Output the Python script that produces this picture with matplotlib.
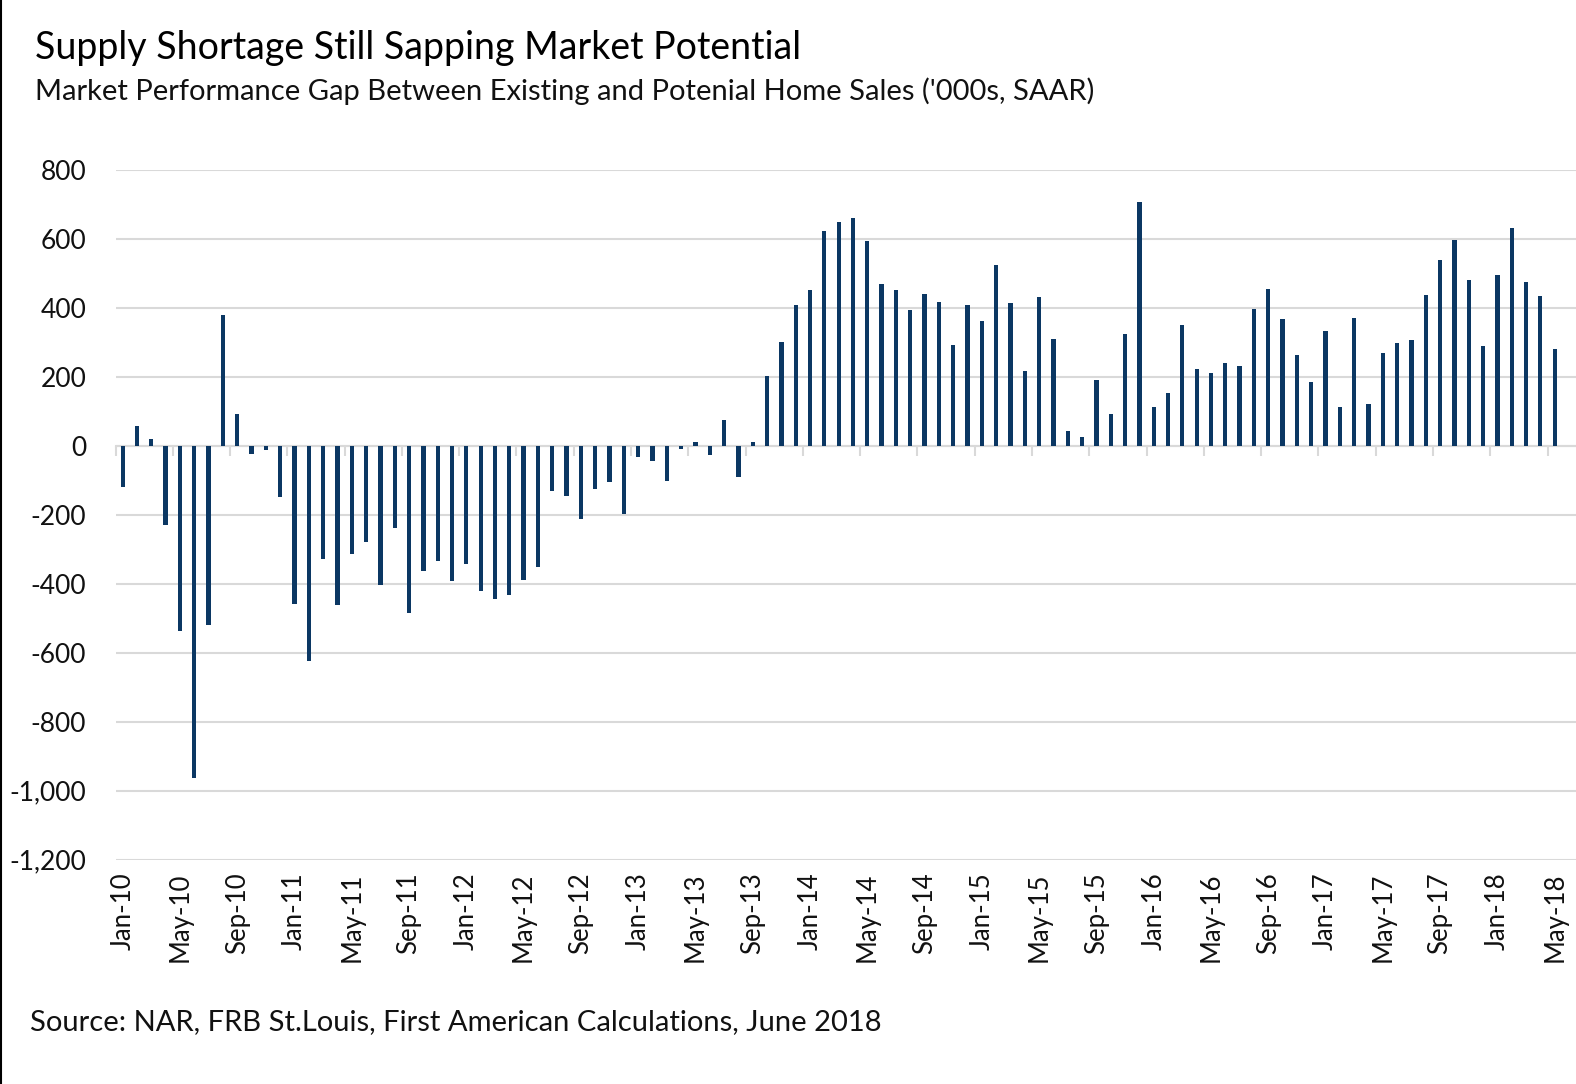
import matplotlib
matplotlib.use("Agg")
import matplotlib.pyplot as plt
from matplotlib.lines import Line2D
from matplotlib.ticker import FuncFormatter
import pandas as pd
import numpy as np

# ---------------- data ----------------
months = pd.date_range("2010-01-01", periods=101, freq="MS").strftime("%b-%y").tolist()

gap_2010_2011 = [-119, 58, 19, -231, -537, -964, -519, 380, 93, -23, -12, -150,
                 -459, -624, -329, -463, -315, -279, -403, -239]
gap_2011_2013 = [-484, -362, -333, -391, -342, -420, -443, -432, -388, -351, -130, -145,
                 -212, -125, -104, -197, -34, -43, -101, -11, 11, -26, 74, -90,
                 11, 202, 300, 408]
gap_2014_2015 = [451, 622, 648, 659, 593, 468, 451, 393, 439, 416, 291, 407,
                 361, 523, 413, 216, 430, 309, 42, 25, 190, 91, 323, 706]
gap_2016_2018 = [111, 152, 349, 222, 210, 239, 230, 396, 454, 367, 262, 184,
                 333, 111, 369, 120, 268, 297, 306, 436, 538, 596, 480, 288,
                 494, 631, 474, 433, 280]
gap = gap_2010_2011 + gap_2011_2013 + gap_2014_2015 + gap_2016_2018

tick_labels = ["Jan-10", "May-10", "Sep-10", "Jan-11", "May-11", "Sep-11",
               "Jan-12", "May-12", "Sep-12", "Jan-13", "May-13", "Sep-13",
               "Jan-14", "May-14", "Sep-14", "Jan-15", "May-15", "Sep-15",
               "Jan-16", "May-16", "Sep-16", "Jan-17", "May-17", "Sep-17",
               "Jan-18", "May-18"]
y_ticks = [-1200, -1000, -800, -600, -400, -200, 0, 200, 400, 600, 800]

title = "Supply Shortage Still Sapping Market Potential"
subtitle = "Market Performance Gap Between Existing and Potenial Home Sales ('000s, SAAR)"
source = "Source: NAR, FRB St.Louis, First American Calculations, June 2018"

# ---------------- style ----------------
plt.rcParams["font.family"] = ["Lato", "DejaVu Sans"]
W, H = 1576, 1084
DPI = 100
BAR = "#0b3763"
GRID = "#d9d9d9"
TXT = "#111111"

fig = plt.figure(figsize=(W / DPI, H / DPI), dpi=DPI)
ax_left, ax_right = 115.5 / W, 1.0
ax_top, ax_bottom = 1 - 169.7 / H, 1 - 859.7 / H
ax = fig.add_axes([ax_left, ax_bottom, ax_right - ax_left, ax_top - ax_bottom])

x = np.arange(len(gap))
ax.bar(x, gap, width=0.3, color=BAR, zorder=3)

ymin, ymax = -1200, 800
ax.set_ylim(ymin, ymax)
ax.set_xlim(-0.5, 101.49)

ax.set_yticks(y_ticks)
ax.yaxis.set_major_formatter(FuncFormatter(lambda v, p: f"{int(v):,}"))
ax.tick_params(axis="y", length=0, pad=21, labelsize=19, labelcolor=TXT)
ax.grid(axis="y", color=GRID, linewidth=1.5, zorder=0)
ax.set_axisbelow(True)
for s in ["top", "right", "left"]:
    ax.spines[s].set_visible(False)

# zero-line axis with boundary tick marks
ax.spines["bottom"].set_position(("data", 0))
ax.spines["bottom"].set_color(GRID)
ax.spines["bottom"].set_linewidth(1.5)
ax.spines["bottom"].set_zorder(1)
ax.set_xticks(np.arange(0, len(gap), 4) - 0.5)
ax.tick_params(axis="x", direction="out", length=7.5, width=1.5, color=GRID,
               labelbottom=False)

# labels at the bottom of the plot
sec = ax.secondary_xaxis("bottom")
sec.set_xticks(np.arange(0, len(gap), 4), tick_labels)
sec.tick_params(axis="x", length=0, pad=9, labelsize=18.5, labelcolor=TXT,
                labelrotation=90)
sec.spines["bottom"].set_visible(False)

# titles and source
fig.text(35 / W, 1 - 59 / H, title, fontsize=27, color="#000000", va="baseline", ha="left")
fig.text(35 / W, 1 - 100 / H, subtitle, fontsize=21, color=TXT, va="baseline", ha="left")
fig.text(30 / W, 1 - 1030 / H, source, fontsize=21, color=TXT, va="baseline", ha="left")

# left border line
fig.add_artist(Line2D([1 / W, 1 / W], [0, 1], transform=fig.transFigure,
                      color="#000000", linewidth=1.5))

fig.savefig("out.png", dpi=DPI)
